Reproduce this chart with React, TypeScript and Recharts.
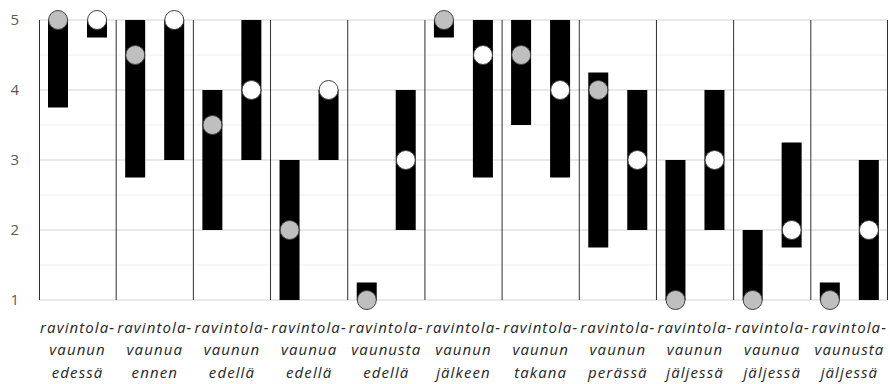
import React from "react";
import {
  ComposedChart,
  Bar,
  Scatter,
  XAxis,
  YAxis,
  CartesianGrid,
} from "recharts";

const categories = [
  "ravintola-vaunun edessä",
  "ravintola-vaunua ennen",
  "ravintola-vaunun edellä",
  "ravintola-vaunua edellä",
  "ravintola-vaunusta edellä",
  "ravintola-vaunun jälkeen",
  "ravintola-vaunun takana",
  "ravintola-vaunun perässä",
  "ravintola-vaunun jäljessä",
  "ravintola-vaunua jäljessä",
  "ravintola-vaunusta jäljessä",
];

const low1 = [3.75, 2.75, 2, 1, 1, 4.75, 3.5, 1.75, 1, 1, 1];
const high1 = [5, 5, 4, 3, 1.25, 5, 5, 4.25, 3, 2, 1.25];
const dot1 = [5, 4.5, 3.5, 2, 1, 5, 4.5, 4, 1, 1, 1];

const low2 = [4.75, 3, 3, 3, 2, 2.75, 2.75, 2, 2, 1.75, 1];
const high2 = [5, 5, 5, 4, 4, 5, 5, 4, 4, 3.25, 3];
const dot2 = [5, 5, 4, 4, 3, 4.5, 4, 3, 3, 2, 2];

const yTicks = [1, 2, 3, 4, 5];
const minorTicks = [1, 1.25, 1.5, 1.75, 2, 2.25, 2.5, 2.75, 3, 3.25, 3.5, 3.75, 4, 4.25, 4.5, 4.75, 5];

const data = categories.map((name, i) => ({
  name,
  r1: [low1[i], high1[i]],
  r2: [low2[i], high2[i]],
  dot1: dot1[i],
  dot2: dot2[i],
}));

const BAR_SIZE = 20;
const BAR_GAP = 19;
const DOT_OFFSET = (BAR_SIZE + BAR_GAP) / 2;
const FONT = "'Open Sans', 'Liberation Sans', sans-serif";

const CategoryTick = (props: any) => {
  const { x, y, payload } = props;
  const value: string = payload.value;
  const idx = value.indexOf("-");
  const first = value.slice(0, idx + 1);
  const rest = value.slice(idx + 1).split(" ");
  return (
    <text
      x={x}
      y={y}
      textAnchor="middle"
      fill="#262626"
      fontFamily={FONT}
      fontStyle="italic"
      fontSize={15}
      letterSpacing={1.1}
    >
      <tspan x={x} dy={33}>{first}</tspan>
      <tspan x={x} dy={22}>{rest[0]}</tspan>
      <tspan x={x} dy={22.5}>{rest[1]}</tspan>
    </text>
  );
};

const makeDot = (offset: number, fill: string) => (props: any) => {
  const { cx, cy } = props;
  if (cx == null || cy == null) return <g />;
  return (
    <circle
      cx={cx + offset}
      cy={cy}
      r={9.5}
      fill={fill}
      stroke="#404040"
      strokeWidth={1}
    />
  );
};

const GreyDot = makeDot(-DOT_OFFSET, "#bfbfbf");
const WhiteDot = makeDot(DOT_OFFSET, "#ffffff");

// category boundaries: band edges of the category axis
const separatorGenerator = ({ offset }: any) => {
  const n = categories.length;
  return Array.from({ length: n + 1 }, (_, i) => {
    const x = offset.left + (i * offset.width) / n;
    if (i === 0) return x + 0.5;
    if (i === n) return x - 0.5;
    return x;
  });
};

export default function App() {
  return (
    <div style={{ position: "absolute", left: 0, top: 0, background: "#fff" }}>
      <ComposedChart
        width={890}
        height={384}
        data={data}
        margin={{ top: 20, right: 2, bottom: 0, left: 0 }}
        barGap={BAR_GAP}
      >
        <XAxis
          dataKey="name"
          type="category"
          interval={0}
          height={84}
          axisLine={false}
          tickLine={false}
          tickSize={0}
          tickMargin={0}
          tick={<CategoryTick />}
        />
        <YAxis
          type="number"
          domain={[1, 5]}
          ticks={yTicks}
          width={39}
          axisLine={false}
          tickLine={false}
          tickSize={0}
          tickMargin={20}
          tick={{ fill: "#595959", fontSize: 15, fontFamily: FONT }}
        />
        <YAxis
          yAxisId="minor"
          type="number"
          domain={[1, 5]}
          ticks={minorTicks}
          allowDataOverflow
          hide
        />
        <CartesianGrid yAxisId="minor" vertical={false} stroke="#f0f0f0" />
        <CartesianGrid vertical={false} stroke="#d9d9d9" />
        <CartesianGrid
          horizontal={false}
          stroke="#303030"
          verticalCoordinatesGenerator={separatorGenerator}
        />
        <Bar dataKey="r1" barSize={BAR_SIZE} fill="#000000" isAnimationActive={false} />
        <Bar dataKey="r2" barSize={BAR_SIZE} fill="#000000" isAnimationActive={false} />
        <Scatter dataKey="dot1" shape={GreyDot} isAnimationActive={false} />
        <Scatter dataKey="dot2" shape={WhiteDot} isAnimationActive={false} />
      </ComposedChart>
    </div>
  );
}
